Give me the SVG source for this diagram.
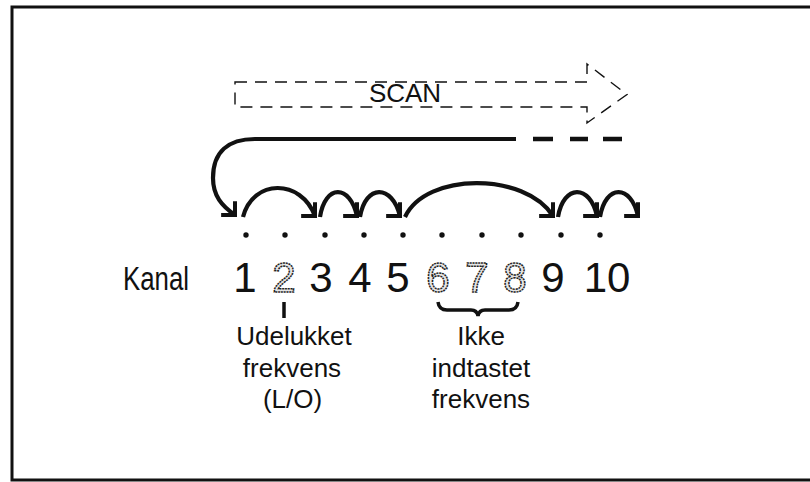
<svg xmlns="http://www.w3.org/2000/svg" width="810" height="482" viewBox="0 0 810 482">
<style>
  .txt { font-family: "Liberation Sans", Arial, sans-serif; fill: #111; }
  .lbl { font-size: 26px; text-anchor: middle; }
  .num { font-size: 42px; text-anchor: middle; }
  .hollow { fill: #e6e6e6; stroke: #222; stroke-width: 1.5; stroke-dasharray: 2 0.8; }
  .arc { fill: none; stroke: #111; stroke-width: 4.2; stroke-linecap: butt; marker-end: url(#ah); }
  .dot { fill: #111; }
  .thick { fill: none; stroke: #111; stroke-width: 3.5; }
</style>
<defs>
  <marker id="ah" markerUnits="userSpaceOnUse" viewBox="-16 -16 32 32" markerWidth="32" markerHeight="32" refX="0" refY="0" orient="45" overflow="visible">
    <path d="M-9.8,-9.8 L0,0 L-9.8,9.8" fill="none" stroke="#111" stroke-width="4" stroke-linejoin="miter"/>
  </marker>
</defs>
<rect width="810" height="482" fill="#fff"/>
<path id="frame" d="M830,7 H12 V480 H830" fill="none" stroke="#111" stroke-width="3"/>

<g id="scan">
  <path d="M235,82 H587 V64 L627,94.5 L587,123 V107 H235 Z" fill="none" stroke="#111" stroke-width="1.4" stroke-dasharray="12 8"/>
  <text class="txt" x="405" y="102" font-size="26" text-anchor="middle">SCAN</text>
</g>

<g id="connectors">
  <path class="arc" d="M516,139 H255 C228,139 213,152 213,178 C213,196 222,206 235,215"/>
  <path d="M533,139 H553 M570,139 H588 M603,139 H622" fill="none" stroke="#111" stroke-width="4.5"/>
  <path class="arc" d="M243,217 C253,178.5 301,178.5 315,216"/>
  <path class="arc" d="M320,217 C325,184 350,184 357,216"/>
  <path class="arc" d="M360,217 C365.5,184 392,184 400,216"/>
  <path class="arc" d="M405,217 C426,172 525,172 553,216"/>
  <path class="arc" d="M558,217 C563.5,184 590,184 597,216"/>
  <path class="arc" d="M600,217 C605.5,184 631,184 638,216"/>
</g>

<g id="kanal">
  <text class="txt" x="123" y="290" font-size="33" textLength="66" lengthAdjust="spacingAndGlyphs">Kanal</text>
</g>

<g id="ch1"><circle class="dot" cx="246" cy="235" r="2.7"/><text class="txt num" x="245" y="292">1</text></g>
<g id="ch2"><circle class="dot" cx="285" cy="235" r="2.7"/><text class="txt num hollow" x="284" y="292">2</text></g>
<g id="ch3"><circle class="dot" cx="325" cy="235" r="2.7"/><text class="txt num" x="321" y="292">3</text></g>
<g id="ch4"><circle class="dot" cx="364" cy="235" r="2.7"/><text class="txt num" x="360" y="292">4</text></g>
<g id="ch5"><circle class="dot" cx="403" cy="235" r="2.7"/><text class="txt num" x="398" y="292">5</text></g>
<g id="ch6"><circle class="dot" cx="442" cy="235" r="2.7"/><text class="txt num hollow" x="438" y="292">6</text></g>
<g id="ch7"><circle class="dot" cx="482" cy="235" r="2.7"/><text class="txt num hollow" x="477" y="292">7</text></g>
<g id="ch8"><circle class="dot" cx="521" cy="235" r="2.7"/><text class="txt num hollow" x="515" y="292">8</text></g>
<g id="ch9"><circle class="dot" cx="561" cy="235" r="2.7"/><text class="txt num" x="553" y="292">9</text></g>
<g id="ch10"><circle class="dot" cx="600" cy="235" r="2.7"/><text class="txt num" x="607" y="292">10</text></g>

<g id="lockout">
  <path class="thick" d="M284,302 V318"/>
  <text class="txt lbl" x="294" y="345">Udelukket</text>
  <text class="txt lbl" x="292" y="377">frekvens</text>
  <text class="txt lbl" x="292.5" y="408">(L/O)</text>
</g>

<g id="notentered">
  <path class="thick" stroke-width="3" d="M438,302 Q439,310 447,310 L471,310 Q477,310 478,316 Q479,310 485,310 L509,310 Q517,310 518,302"/>
  <text class="txt lbl" x="481" y="345">Ikke</text>
  <text class="txt lbl" x="481" y="377">indtastet</text>
  <text class="txt lbl" x="481" y="408">frekvens</text>
</g>
</svg>
